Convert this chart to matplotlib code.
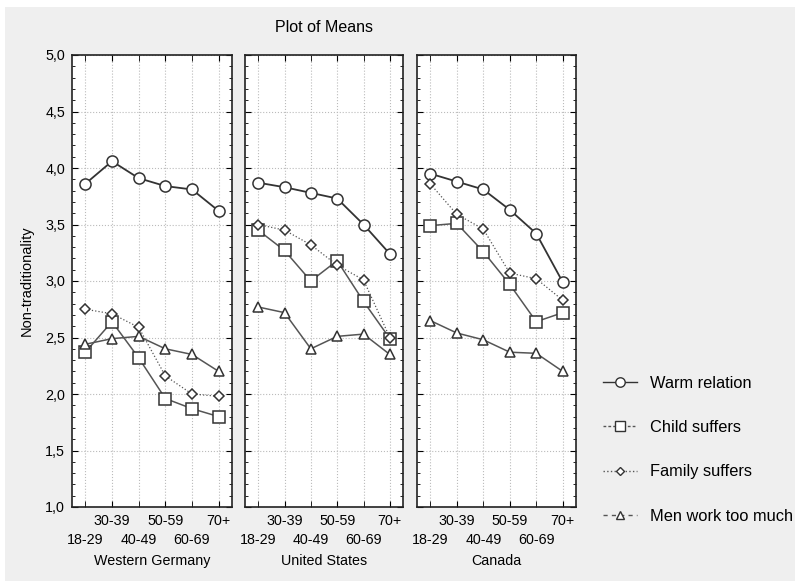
import matplotlib
matplotlib.use('Agg')
import matplotlib.pyplot as plt
from matplotlib.lines import Line2D
from matplotlib.patches import Rectangle
from matplotlib.ticker import FuncFormatter, MultipleLocator

plt.rcParams['font.family'] = ['Liberation Sans', 'DejaVu Sans']

# mean scores by age group, one list per country and item
age_groups = ['18-29', '30-39', '40-49', '50-59', '60-69', '70+']
countries = ['Western Germany', 'United States', 'Canada']

warm_relation = {
    'Western Germany': [3.86, 4.06, 3.91, 3.84, 3.81, 3.62],
    'United States': [3.87, 3.83, 3.78, 3.73, 3.50, 3.24],
    'Canada': [3.95, 3.88, 3.81, 3.63, 3.42, 2.99],
}
child_suffers = {
    'Western Germany': [2.37, 2.64, 2.32, 1.96, 1.87, 1.80],
    'United States': [3.45, 3.27, 3.00, 3.18, 2.82, 2.49],
    'Canada': [3.49, 3.51, 3.26, 2.97, 2.64, 2.72],
}
family_suffers = {
    'Western Germany': [2.75, 2.71, 2.59, 2.16, 2.00, 1.98],
    'United States': [3.50, 3.45, 3.32, 3.14, 3.01, 2.50],
    'Canada': [3.86, 3.59, 3.46, 3.07, 3.02, 2.83],
}
men_work = {
    'Western Germany': [2.44, 2.49, 2.51, 2.40, 2.35, 2.20],
    'United States': [2.77, 2.72, 2.40, 2.51, 2.53, 2.35],
    'Canada': [2.65, 2.54, 2.48, 2.37, 2.36, 2.20],
}

series = [
    ('Warm relation', warm_relation, dict(marker='o', ms=8, color='#333333', lw=1.3, ls='-')),
    ('Child suffers', child_suffers, dict(marker='s', ms=8, color='#555555', lw=1.1, ls='-')),
    ('Family suffers', family_suffers, dict(marker='D', ms=5, color='#555555', lw=0.9, ls=':')),
    ('Men work too much', men_work, dict(marker='^', ms=7.5, color='#555555', lw=1.1, ls='-')),
]
legend_ls = {'Warm relation': '-', 'Child suffers': (0, (2, 1.5)),
             'Family suffers': ':', 'Men work too much': (0, (3, 3))}

fig = plt.figure(figsize=(7.95, 5.81), dpi=100)
fig.patches.append(Rectangle((5 / 795, 0), 1, 1 - 7 / 581, transform=fig.transFigure,
                             facecolor='#efefef', edgecolor='none', zorder=-10))

lefts = [72, 245, 417]
widths = [160, 158, 159]
x = list(range(len(age_groups)))

for i, country in enumerate(countries):
    ax = fig.add_axes([lefts[i] / 795, 1 - 507 / 581, widths[i] / 795, 452 / 581])
    ax.set_facecolor('white')
    for name, data, st in series:
        ax.plot(x, data[country], marker=st['marker'], ms=st['ms'], color=st['color'],
                lw=st['lw'], ls=st['ls'], mfc='white', mec='#333333', mew=1.1)
    ax.set_xlim(-0.5, 5.5)
    ax.set_ylim(1.0, 5.0)
    ax.yaxis.set_major_locator(MultipleLocator(0.5))
    ax.yaxis.set_minor_locator(MultipleLocator(0.1))
    ax.yaxis.set_major_formatter(FuncFormatter(lambda v, p: f'{v:.1f}'.replace('.', ',')))

    # staggered age group labels: odd groups on the upper row, even on the lower
    ax.set_xticks(x[1::2])
    ax.set_xticklabels(age_groups[1::2])
    ax.set_xticks(x[0::2], minor=True)
    ax.set_xticklabels(age_groups[0::2], minor=True)
    ax.tick_params(axis='x', which='major', direction='in', top=True, length=4, pad=5, labelsize=10.3)
    ax.tick_params(axis='x', which='minor', direction='in', top=True, length=4, pad=19, labelsize=10.3)
    ax.tick_params(axis='y', which='major', direction='in', right=True, length=4, labelsize=10.3, pad=5)
    ax.tick_params(axis='y', which='minor', direction='in', right=True, length=2)
    if i > 0:
        ax.tick_params(axis='y', which='both', labelleft=False)

    ax.grid(True, which='major', axis='y', ls=':', color='#bbbbbb', lw=0.8)
    ax.grid(True, which='both', axis='x', ls=':', color='#bbbbbb', lw=0.8)
    for sp in ax.spines.values():
        sp.set_linewidth(1.2)
        sp.set_color('#222222')
    ax.set_xlabel(country, fontsize=10.3, labelpad=5)
    if i == 0:
        ax.set_ylabel('Non-traditionality', fontsize=10.5, labelpad=8)

fig.text(324 / 795, 1 - 27 / 581, 'Plot of Means', ha='center', va='center', fontsize=11.5)

handles = [Line2D([], [], marker=st['marker'], ms=st['ms'] * 0.85, color=st['color'], lw=1.0,
                  ls=legend_ls[name], mfc='white', mec='#333333', mew=1.0)
           for name, data, st in series]
fig.legend(handles, [s[0] for s in series], loc='upper left',
           bbox_to_anchor=(603 / 795, 1 - 376 / 581), frameon=False, fontsize=11.8,
           labelspacing=1.78, handlelength=2.1, handletextpad=0.75, borderpad=0,
           borderaxespad=0)

fig.savefig('out.png', dpi=100)
